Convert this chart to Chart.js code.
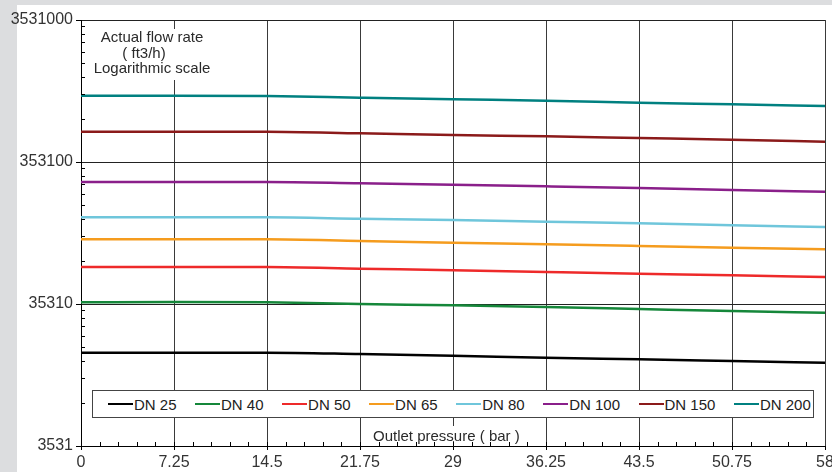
<!DOCTYPE html>
<html>
<head>
<meta charset="utf-8">
<script src="https://cdn.jsdelivr.net/npm/chart.js@4/dist/chart.umd.min.js"></script>
<style>
  body { margin: 0; background: #dcdddf; font-family: "Liberation Sans", Arial, sans-serif; }
  #paper { position: absolute; left: 17px; top: 5px; width: 815px; height: 467px; background: #fff; }
  #chart { position: absolute; left: 0; top: 0; }
  .txt { position: absolute; font-size: 15px; color: #2a2a2a; background: #fff; white-space: nowrap; }
  #ytitle { left: 88px; top: 29px; width: 128px; text-align: center; line-height: 15.5px; padding-bottom: 4px; }
  #ytitle span { position: relative; left: -8px; }
  #xtitle { left: 371px; top: 426px; height: 12px; padding: 3px 2px 0 2px; line-height: 14px; }
  #legend { position: absolute; left: 92px; top: 390px; width: 705px; height: 26px; border: 1px solid #444;
            background: #fff; display: flex; align-items: center; padding-left: 15px; box-sizing: content-box;
            font-size: 15px; color: #222; white-space: nowrap; overflow: visible; }
  #legend .item { display: flex; align-items: center; margin-right: 18.5px; }
  #legend .line { display: inline-block; width: 25px; height: 2.5px; margin-right: 1px; }
</style>
</head>
<body>
<div id="paper"></div>
<canvas id="chart" width="832" height="472"></canvas>
<div class="txt" id="ytitle">Actual flow rate<br><span>( ft3/h)</span><br>Logarithmic scale</div>
<div class="txt" id="xtitle">Outlet pressure ( bar )</div>
<div id="legend"></div>

<script>
// ---------------- DATA ----------------

const pressures = [0, 7.25, 14.5, 21.75, 29, 36.25, 43.5, 50.75, 58];
const xTickValues = [0, 7.25, 14.5, 21.75, 29, 36.25, 43.5, 50.75, 58];
const yTickValues = [3531, 35310, 353100, 3531000];

const seriesNames = ["DN 25", "DN 40", "DN 50", "DN 65", "DN 80", "DN 100", "DN 150", "DN 200"];
const seriesColors = ["#000000", "#15873a", "#ee2a2a", "#f59c1e", "#6fc6db", "#8a1f8a", "#8b1a1a", "#008080"];

const dn25  = [16030, 16030, 16030, 15690, 15260, 14780, 14400, 14010, 13630];
const dn40  = [36300, 36500, 36300, 35310, 34570, 33630, 32560, 31530, 30660];
const dn50  = [64300, 64300, 64300, 62600, 61000, 59300, 57700, 56300, 54700];
const dn65  = [100800, 100800, 100800, 98100, 95400, 93000, 90500, 88000, 85700];
const dn80  = [144000, 144000, 144000, 140800, 137800, 134100, 130700, 126500, 123100];
const dn100 = [255400, 255400, 255400, 250000, 244300, 238100, 231600, 224300, 218100];
const dn150 = [577300, 577300, 577300, 562500, 547000, 535700, 521200, 507100, 490800];
const dn200 = [1035000, 1035000, 1029600, 1001700, 976000, 954000, 923700, 900000, 875700];

const seriesValues = [dn25, dn40, dn50, dn65, dn80, dn100, dn150, dn200];

// ---------------- LEGEND ----------------

let legend = document.getElementById("legend");
seriesNames.forEach((name, i) => {
  let item = document.createElement("div");
  item.className = "item";
  item.innerHTML = `<span class="line" style="background:${seriesColors[i]}"></span>${name}`;
  legend.appendChild(item);
});

// ---------------- MINOR TICKS ----------------

const innerTicks = {
  id: "innerTicks",
  afterDraw(chart) {
    let ctx = chart.ctx;
    let x = chart.scales.x;
    let y = chart.scales.y;
    let area = chart.chartArea;
    ctx.save();
    ctx.strokeStyle = "#000";
    ctx.lineWidth = 1;
    ctx.beginPath();
    // log minor ticks on the y axis
    for (let d = 0; d < yTickValues.length - 1; d++) {
      for (let k = 2; k <= 9; k++) {
        let py = Math.round(y.getPixelForValue(yTickValues[d] * k)) + 0.5;
        ctx.moveTo(area.left, py);
        ctx.lineTo(area.left + 4, py);
      }
    }
    // minor ticks on the x axis
    for (let k = 1; k < 40; k++) {
      let px = Math.round(x.getPixelForValue(k * 1.45)) + 0.5;
      ctx.moveTo(px, area.bottom);
      ctx.lineTo(px, area.bottom - 4);
    }
    ctx.stroke();
    ctx.restore();
  }
};

// ---------------- CHART ----------------

let datasets = seriesNames.map((name, i) => ({
  label: name,
  data: pressures.map((p, j) => ({ x: p, y: seriesValues[i][j] })),
  borderColor: seriesColors[i],
  borderWidth: 2.5,
  pointRadius: 0,
  cubicInterpolationMode: "monotone",
  fill: false
}));

let ctx = document.getElementById("chart").getContext("2d");

let chartInstance = new Chart(ctx, {
  type: "line",
  data: { datasets: datasets },
  plugins: [innerTicks],
  options: {
    responsive: false,
    animation: false,
    layout: { padding: { top: 20, right: 7, left: 0, bottom: 0 } },
    plugins: { legend: { display: false }, tooltip: { enabled: false } },
    scales: {
      x: {
        type: "linear",
        min: 0,
        max: 58,
        afterBuildTicks: (scale) => { scale.ticks = xTickValues.map(v => ({ value: v })); },
        afterFit: (scale) => { scale.height = 26; scale.paddingLeft = 0; scale.paddingRight = 0; },
        ticks: {
          autoSkip: false,
          maxRotation: 0,
          padding: 3,
          color: "#333",
          font: { family: "Liberation Sans", size: 16 },
          callback: (v) => String(v)
        },
        grid: { color: "#3a3a3a", lineWidth: 1, tickLength: 4, tickColor: "#000" },
        border: { color: "#000", width: 1 }
      },
      y: {
        type: "logarithmic",
        min: 3531,
        max: 3531000,
        afterBuildTicks: (scale) => { scale.ticks = yTickValues.map(v => ({ value: v })); },
        afterFit: (scale) => { scale.width = 81; },
        ticks: {
          padding: 3,
          color: "#333",
          font: { family: "Liberation Sans", size: 16 },
          callback: (v) => String(v)
        },
        grid: { color: "#222", lineWidth: 1, tickLength: 5, tickColor: "#000" },
        border: { color: "#000", width: 1 }
      }
    }
  }
});
</script>
</body>
</html>
